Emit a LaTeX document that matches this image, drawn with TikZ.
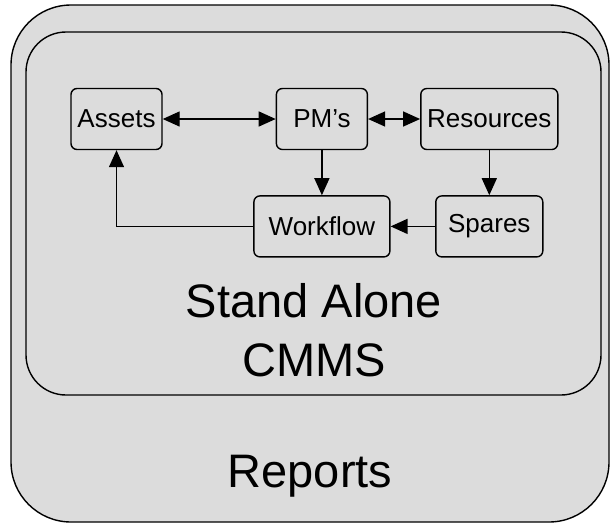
\documentclass[tikz,border=0pt]{standalone}
\usepackage{fontspec}
\setmainfont{Liberation Sans}
\usepackage{xcolor}
\usetikzlibrary{positioning,arrows.meta}
\definecolor{panelgray}{RGB}{220,220,220}

\begin{document}
\begin{tikzpicture}[x=1pt,y=-1pt,line width=1.4pt,
                    >={Triangle[length=17pt,width=15pt]},
                    main node/.style={draw,rounded corners=6pt,fill=panelgray,minimum height=61pt,inner sep=0pt,font=\fontsize{26}{30}\selectfont},
                    big label/.style={align=center,font=\fontsize{47}{59}\selectfont}]

 \useasboundingbox (0,0) rectangle (610,523);

 \draw[fill=panelgray,rounded corners=60pt] (11,5) rectangle (609,522);
 \draw[fill=panelgray,rounded corners=40pt] (26,32) rectangle (601,395);

 \node[main node,minimum width=91pt] (assets) at (116.5,119) {Assets};
 \node[main node,minimum width=91pt] (pms) [right=113pt of assets] {PM’s};
 \node[main node,minimum width=137pt] (resources) [right=52pt of pms] {Resources};
 \node[main node,minimum width=136pt] (workflow) [below=45pt of pms] {Workflow};
 \node[main node,minimum width=107pt] (spares) [below=45pt of resources] {Spares};

 \path
 (assets) edge[<->] (pms)
 (pms) edge[<->] (resources)
       edge[->] (workflow)
 (resources) edge[->] (spares)
 (spares) edge[->] (workflow);
 \draw[->] (workflow.west) -| (assets.south);

 \node[big label] (cmms) at (314,330) {Stand Alone\\CMMS};
 \node[big label,anchor=base] (reports) at (310,487) {Reports};

\end{tikzpicture}
\end{document}
